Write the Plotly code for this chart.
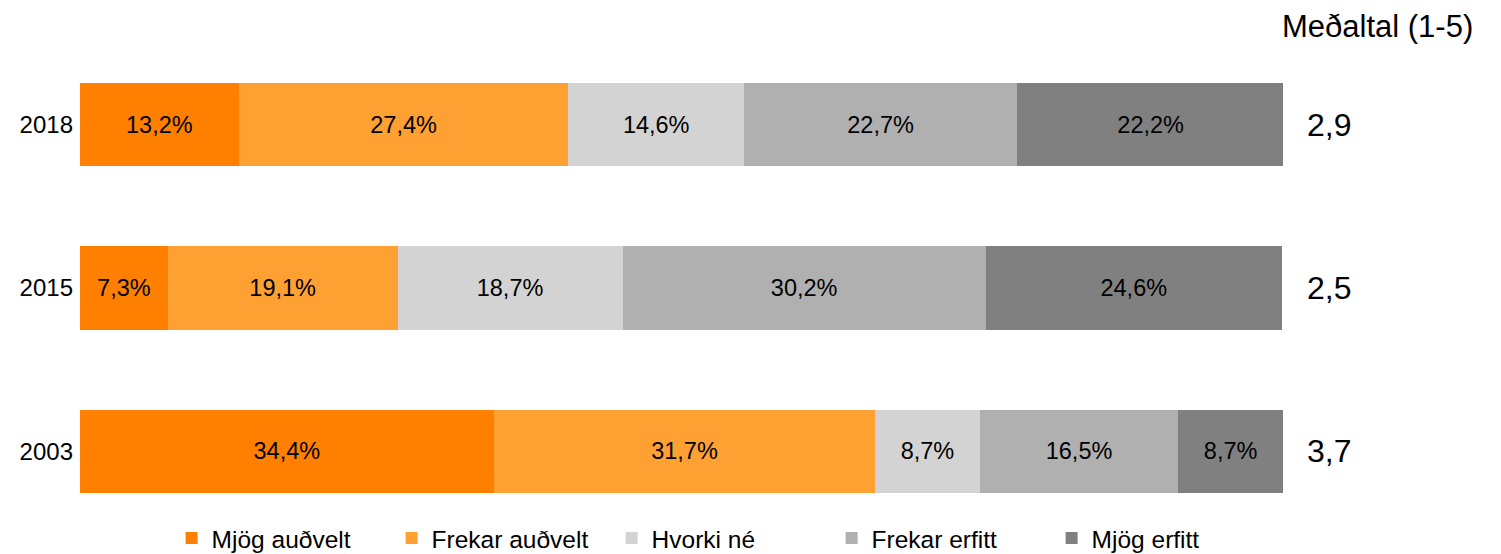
import plotly.graph_objects as go

years = ["2018", "2015", "2003"]
categories = ["Mjög auðvelt", "Frekar auðvelt", "Hvorki né", "Frekar erfitt", "Mjög erfitt"]
values = {
    "Mjög auðvelt": [13.2, 7.3, 34.4],
    "Frekar auðvelt": [27.4, 19.1, 31.7],
    "Hvorki né": [14.6, 18.7, 8.7],
    "Frekar erfitt": [22.7, 30.2, 16.5],
    "Mjög erfitt": [22.2, 24.6, 8.7],
}
means = ["2,9", "2,5", "3,7"]
colors = ["#FF8000", "#FFA033", "#D3D3D3", "#B0B0B0", "#808080"]

FONT = "Liberation Sans, Arial, sans-serif"
cat_order = ["2003", "2015", "2018"]

fig = go.Figure()
for cat, col in zip(categories, colors):
    vals = values[cat]
    fig.add_trace(go.Bar(
        y=years, x=vals, name=cat, orientation="h",
        marker=dict(color=col, line=dict(width=0)),
        text=[f"{v:.1f}%".replace(".", ",") for v in vals],
        textposition="inside", insidetextanchor="middle",
        textangle=0, constraintext="none",
        textfont=dict(color="black", size=23.5, family=FONT),
        hoverinfo="skip",
    ))

for y, m in zip(years, means):
    fig.add_annotation(x=1.018, xref="paper", y=cat_order.index(y), yref="y", text=m,
                       showarrow=False, xanchor="left", yanchor="middle",
                       font=dict(size=32, color="black", family=FONT))

fig.add_annotation(x=1.16, xref="paper", y=1.033, yref="paper",
                   text="Meðaltal (1-5)", showarrow=False,
                   xanchor="right", yanchor="middle",
                   font=dict(size=31, color="black", family=FONT))

fig.update_layout(
    barmode="stack", bargap=0.49,
    width=1501, height=554,
    margin=dict(l=72, r=226, t=35, b=29, autoexpand=False),
    paper_bgcolor="white", plot_bgcolor="white",
    font=dict(family=FONT, color="black"),
    showlegend=True,
    legend=dict(orientation="h", xref="container", x=0.109, xanchor="left",
                yref="container", y=0.043, yanchor="middle",
                font=dict(size=24.5, family=FONT, color="black"),
                entrywidth=175, entrywidthmode="pixels", traceorder="normal",
                itemsizing="constant", bgcolor="rgba(0,0,0,0)"),
    xaxis=dict(range=[0, 100], visible=False, fixedrange=True),
    yaxis=dict(type="category", categoryorder="array", categoryarray=cat_order,
               range=[-0.5, 2.5], showgrid=False, zeroline=False, showline=False,
               ticks="", tickfont=dict(size=24, family=FONT, color="black"),
               ticklabelstandoff=6),
)

fig.write_html("out.html")
